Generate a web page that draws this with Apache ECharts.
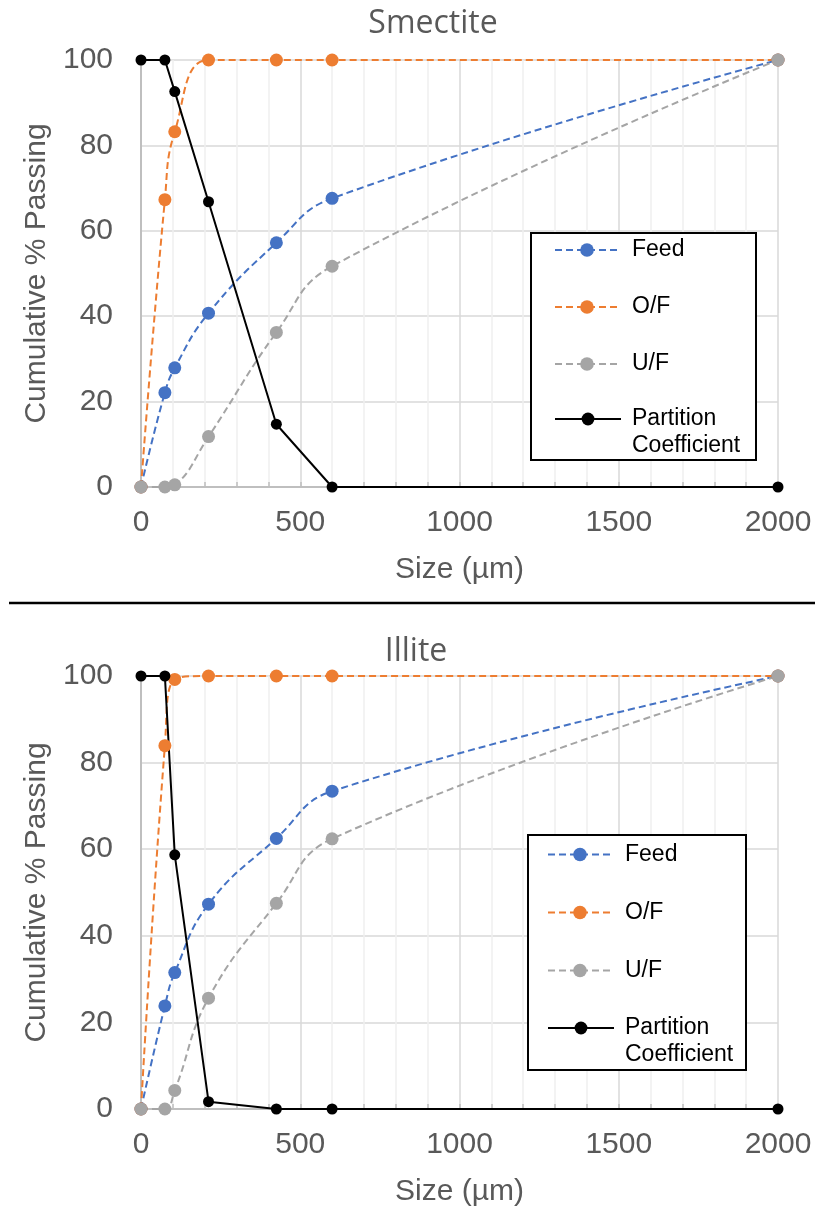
<!DOCTYPE html>
<html>
<head>
<meta charset="utf-8">
<title>Smectite and Illite size distributions</title>
<script src="https://cdn.jsdelivr.net/npm/echarts@6/dist/echarts.min.js"></script>
<style>
  html, body { margin: 0; padding: 0; background: #ffffff; }
  #chart { width: 815px; height: 1209px; }
</style>
</head>
<body>
<div id="chart"></div>
<script>
// Sieve sizes (µm)
const sizes = [0, 75, 106, 212, 425, 600, 2000];
const xTicks = [0, 500, 1000, 1500, 2000];
const yTicks = [0, 20, 40, 60, 80, 100];

// Smectite — cumulative % passing
const smectiteFeed = [0, 22.1, 27.9, 40.7, 57.2, 67.6, 100];
const smectiteOF = [0, 67.3, 83.2, 100, 100, 100, 100];
const smectiteUF = [0, 0, 0.5, 11.8, 36.2, 51.7, 100];
const smectitePartition = [100, 100, 92.6, 66.8, 14.7, 0, 0];

// Illite — cumulative % passing
const illiteFeed = [0, 23.8, 31.5, 47.3, 62.5, 73.4, 100];
const illiteOF = [0, 83.9, 99.2, 100, 100, 100, 100];
const illiteUF = [0, 0, 4.3, 25.6, 47.5, 62.4, 100];
const illitePartition = [100, 100, 58.7, 1.7, 0, 0, 0];

const panelTitles = ['Smectite', 'Illite'];
const seriesNames = ['Feed', 'O/F', 'U/F', 'Partition Coefficient'];
const seriesColors = ['#4472C4', '#ED7D31', '#A5A5A5', '#000000'];

const AXIS_FONT = '"Liberation Sans", Arial, sans-serif';
const TITLE_FONT = '"Open Sans", "Noto Sans", sans-serif';
const GREY_TEXT = '#595959';

function pairs(ys) {
  return sizes.map((x, i) => [x, ys[i]]);
}

const panels = [
  { data: [smectiteFeed, smectiteOF, smectiteUF, smectitePartition] },
  { data: [illiteFeed, illiteOF, illiteUF, illitePartition] }
];

const grids = [
  { left: 141, top: 60, width: 637, height: 427 },
  { left: 141, top: 676, width: 637, height: 433 }
];

function xAxisFor(idx) {
  return {
    type: 'value', gridIndex: idx, min: xTicks[0], max: xTicks[xTicks.length - 1], interval: 500,
    name: 'Size (µm)', nameLocation: 'middle', nameGap: 68,
    nameTextStyle: { fontFamily: AXIS_FONT, fontSize: 30, color: GREY_TEXT },
    axisLine: { show: true, onZero: false, lineStyle: { color: '#bfbfbf', width: 2 } },
    axisTick: { show: true, inside: true, length: 5, lineStyle: { color: '#bfbfbf', width: 1.5 } },
    minorTick: { show: true, splitNumber: 5, length: 5, lineStyle: { color: '#bfbfbf', width: 1.5 } },
    axisLabel: { fontFamily: AXIS_FONT, fontSize: 30, color: GREY_TEXT, margin: 21,
      formatter: (v) => String(v) },
    splitLine: { show: true, lineStyle: { color: '#d9d9d9', width: 1.5 } },
    minorSplitLine: { show: true, lineStyle: { color: '#efefef', width: 1.5 } }
  };
}

function yAxisFor(idx) {
  return {
    type: 'value', gridIndex: idx, min: yTicks[0], max: yTicks[yTicks.length - 1], interval: 20,
    name: 'Cumulative % Passing', nameLocation: 'middle', nameGap: 89,
    nameTextStyle: { fontFamily: AXIS_FONT, fontSize: 30, color: GREY_TEXT },
    axisLine: { show: true, lineStyle: { color: '#bfbfbf', width: 2 } },
    axisTick: { show: false },
    axisLabel: { fontFamily: AXIS_FONT, fontSize: 30, color: GREY_TEXT, margin: 28 },
    splitLine: { show: true, lineStyle: { color: '#d9d9d9', width: 1.5 } }
  };
}

const series = [];
panels.forEach((panel, p) => {
  panel.data.forEach((ys, s) => {
    const isPartition = s === 3;
    series.push({
      name: seriesNames[s],
      type: 'line',
      xAxisIndex: p,
      yAxisIndex: p,
      data: pairs(ys),
      smooth: isPartition ? false : 0.45,
      symbol: 'circle',
      symbolSize: isPartition ? 11 : 13,
      showSymbol: true,
      itemStyle: { color: seriesColors[s] },
      lineStyle: { color: seriesColors[s], width: 2, type: isPartition ? 'solid' : [7, 4] },
      emphasis: { disabled: true }
    });
  });
});

// Legend boxes: one for the dashed size curves, one for the partition line
const legendBoxes = [
  { x: 531, y: 233, w: 225, h: 227, iconLeft: 554, firstY: 250, step: 57, partY: 419 },
  { x: 528, y: 835, w: 218, h: 235, iconLeft: 547, firstY: 854.5, step: 58, partY: 1028 }
];

const legends = [];
const graphics = [];
legendBoxes.forEach((b) => {
  graphics.push({
    type: 'rect', z: 99,
    shape: { x: b.x, y: b.y, width: b.w, height: b.h },
    style: { fill: '#ffffff', stroke: '#000000', lineWidth: 2 }
  });
  legends.push({
    orient: 'vertical', left: b.iconLeft, top: b.firstY - 13.5, padding: 0, z: 100,
    itemWidth: 64, itemHeight: 17, itemGap: b.step - 27,
    selectedMode: false,
    data: seriesNames.slice(0, 3),
    textStyle: { fontFamily: AXIS_FONT, fontSize: 23, lineHeight: 27, color: '#000000', padding: [0, 0, 0, 8] }
  });
  // The empty first line keeps the icon level with "Partition"
  legends.push({
    orient: 'vertical', left: b.iconLeft, top: b.partY - 40.5, padding: 0, z: 100,
    itemWidth: 66, itemHeight: 16,
    selectedMode: false,
    data: [seriesNames[3]],
    formatter: () => ' \nPartition\nCoefficient',
    textStyle: { fontFamily: AXIS_FONT, fontSize: 23, lineHeight: 27, color: '#000000', padding: [0, 0, 0, 6] }
  });
});

// Divider between the two panels
graphics.push({
  type: 'line',
  shape: { x1: 9, y1: 603, x2: 815, y2: 603 },
  style: { stroke: '#000000', lineWidth: 2.5 }
});

const option = {
  animation: false,
  backgroundColor: '#ffffff',
  title: [
    { text: panelTitles[0], left: 433, top: 8, textAlign: 'center', padding: 0,
      textStyle: { fontFamily: TITLE_FONT, fontSize: 32, fontWeight: 'normal', color: GREY_TEXT } },
    { text: panelTitles[1], left: 416, top: 636, textAlign: 'center', padding: 0,
      textStyle: { fontFamily: TITLE_FONT, fontSize: 32, fontWeight: 'normal', color: GREY_TEXT } }
  ],
  grid: grids,
  xAxis: [xAxisFor(0), xAxisFor(1)],
  yAxis: [yAxisFor(0), yAxisFor(1)],
  legend: legends,
  graphic: graphics,
  series: series
};

const chart = echarts.init(document.getElementById('chart'), null, { renderer: 'canvas' });
chart.setOption(option);
</script>
</body>
</html>
